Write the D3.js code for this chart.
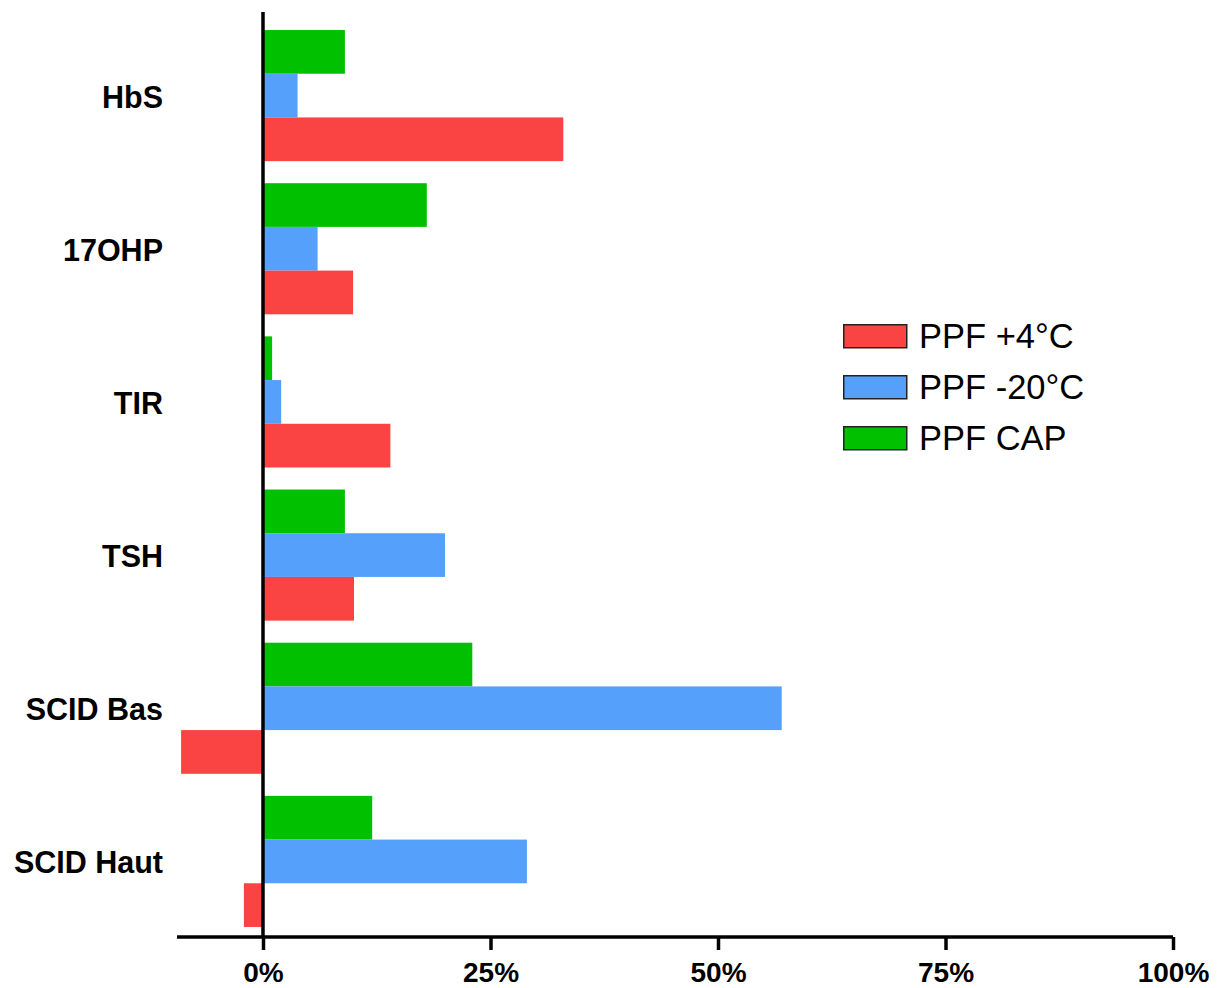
<!DOCTYPE html>
<html><head><meta charset="utf-8">
<script src="https://cdn.jsdelivr.net/npm/d3@7"></script>
<style>body{margin:0;background:#fff}svg{display:block}</style>
</head><body>
<svg id="c" width="1221" height="988"></svg>
<script>
const categories = ["HbS","17OHP","TIR","TSH","SCID Bas","SCID Haut"];
const seriesNames = ["PPF CAP","PPF -20°C","PPF +4°C"]; // top to bottom within group
const ppfCap   = [9, 18, 1, 9, 23, 12];
const ppfM20   = [3.8, 6, 2, 20, 57, 29];
const ppfP4    = [33, 9.9, 14, 10, -9, -2.1];
const xTicks = [0, 25, 50, 75, 100];
const tickLabels = ["0%","25%","50%","75%","100%"];
const legendOrder = ["PPF +4°C","PPF -20°C","PPF CAP"];
const colors = {"PPF +4°C":"#FA4343","PPF -20°C":"#55A0FB","PPF CAP":"#00C000"};
const seriesValues = {"PPF CAP":ppfCap,"PPF -20°C":ppfM20,"PPF +4°C":ppfP4};

const svg = d3.select("#c");
const x = d3.scaleLinear().domain([-9.45, 100]).range([177, 1173]);
const y = d3.scaleBand().domain(categories).range([19, 938]).paddingInner(0.144).paddingOuter(0.072);
const ys = d3.scaleBand().domain(seriesNames).range([0, y.bandwidth()]);

const g = svg.append("g");
categories.forEach((c, i) => {
  seriesNames.forEach(s => {
    const v = seriesValues[s][i];
    g.append("rect")
      .attr("x", Math.min(x(0), x(v)))
      .attr("y", y(c) + ys(s))
      .attr("width", Math.abs(x(v) - x(0)))
      .attr("height", ys.bandwidth())
      .attr("fill", colors[s]);
  });
});

// category labels
svg.append("g").selectAll("text").data(categories).join("text")
  .attr("x", 163).attr("y", d => y(d) + y.bandwidth()/2 + 1)
  .attr("text-anchor", "end").attr("dominant-baseline", "central")
  .style("font-family", "Liberation Sans, Arial, sans-serif")
  .style("font-weight", "bold").style("font-size", "30.5px")
  .text(d => d);

// y axis line
svg.append("line").attr("x1", x(0)).attr("x2", x(0)).attr("y1", 12).attr("y2", 938)
  .attr("stroke", "#000").attr("stroke-width", 3.5);

// x axis
const xAxis = d3.axisBottom(x).tickValues(xTicks).tickSize(13).tickSizeOuter(0)
  .tickFormat((d, i) => tickLabels[i]);
const ax = svg.append("g").attr("transform", "translate(0,937)").call(xAxis);
ax.select(".domain").attr("stroke", "#000").attr("stroke-width", 3.5).attr("d", `M${x.range()[0]},0H${x.range()[1]}`);
ax.selectAll(".tick line").attr("stroke", "#000").attr("stroke-width", 3.5);
ax.selectAll(".tick text").attr("y", 45).attr("dy", 0).attr("fill", "#000")
  .style("font-family", "Liberation Sans, Arial, sans-serif")
  .style("font-weight", "bold").style("font-size", "28px");

// legend
const lg = svg.append("g").attr("transform", "translate(843,324)");
legendOrder.forEach((s, i) => {
  const row = lg.append("g").attr("transform", `translate(0,${i*51})`);
  row.append("rect").attr("x", 0.75).attr("y", 0.75).attr("width", 63).attr("height", 23)
    .attr("fill", colors[s]).attr("stroke", "#222").attr("stroke-width", 1.5);
  row.append("text").attr("x", 76).attr("y", 12).attr("dominant-baseline", "central")
    .style("font-family", "Liberation Sans, Arial, sans-serif").style("font-size", "34.5px")
    .attr("fill", "#000").text(s);
});
</script>
</body></html>
